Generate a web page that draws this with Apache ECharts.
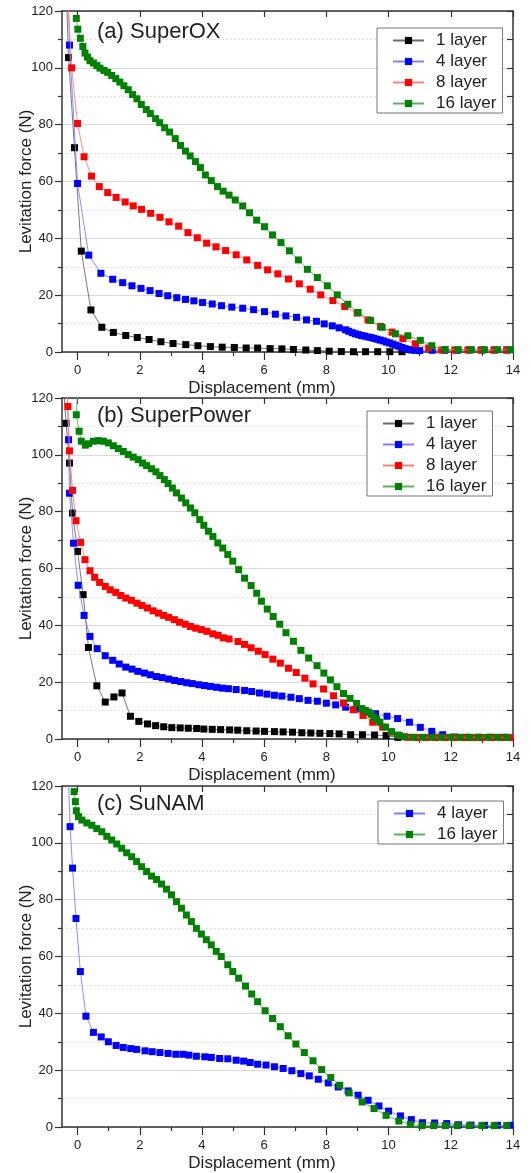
<!DOCTYPE html>
<html><head><meta charset="utf-8">
<script src="https://cdn.jsdelivr.net/npm/echarts@6/dist/echarts.min.js"></script>
<style>html,body{margin:0;padding:0;background:#fff}#c{width:531px;height:1173px}</style>
</head><body><div id="c"></div>
<script>
// ---- tick labels / categories ----
const xTickLabels = [0, 2, 4, 6, 8, 10, 12, 14];
const xMinorTicks = [1, 3, 5, 7, 9, 11, 13];
const panelTitles = ['(a) SuperOX', '(b) SuperPower', '(c) SuNAM'];
const seriesNames = ['1 layer', '4 layer', '8 layer', '16 layer'];

// ---- (a) SuperOX : [displacement mm, force N] ----
const superOX_1 = [[-0.38,133],[-0.29,103.6],[-0.10,71.9],[0.12,35.5],[0.43,14.8],[0.78,8.7],[1.15,6.9],[1.55,5.8],[1.92,5.1],[2.30,4.4],[2.68,3.6],[3.07,3.0],[3.48,2.6],[3.87,2.2],[4.27,1.9],[4.65,1.7],[5.04,1.6],[5.42,1.4],[5.79,1.4],[6.19,1.2],[6.57,1.1],[6.94,0.9],[7.34,0.7],[7.71,0.5],[8.09,0.3],[8.48,0.15],[8.87,0.1],[9.26,0.1],[9.65,0.1],[10.04,0.1],[10.43,0.1]];
const superOX_4 = [[-0.32,135],[-0.26,108.0],[0.0,59.3],[0.36,34.1],[0.75,27.7],[1.13,25.6],[1.45,24.4],[1.75,23.3],[2.04,22.4],[2.33,21.6],[2.62,20.6],[2.90,19.8],[3.19,19.1],[3.47,18.5],[3.74,18.0],[4.02,17.4],[4.33,16.9],[4.63,16.3],[4.96,15.8],[5.31,15.4],[5.66,14.9],[6.01,14.2],[6.36,13.3],[6.70,12.7],[7.04,12.2],[7.36,11.3],[7.68,10.8],[7.93,9.9],[8.19,9.2],[8.41,8.5],[8.62,7.8],[8.72,7.3],[8.83,6.8],[8.93,6.4],[9.03,6.1],[9.13,5.8],[9.23,5.6],[9.33,5.3],[9.43,5.1],[9.53,4.8],[9.63,4.5],[9.73,4.2],[9.83,3.9],[9.93,3.5],[10.03,3.2],[10.13,2.8],[10.23,2.4],[10.33,2.0],[10.43,1.6],[10.53,1.2],[10.63,0.9],[10.73,0.7],[10.85,0.6],[11.0,0.5],[11.4,0.6],[11.8,0.6],[12.2,0.6],[12.6,0.7],[13.0,0.7],[13.4,0.7],[13.8,0.7]];
const superOX_8 = [[-0.31,124],[-0.19,100.0],[0.0,80.4],[0.21,68.7],[0.45,61.9],[0.70,58.2],[0.97,56.1],[1.24,54.4],[1.53,52.8],[1.79,51.4],[2.06,50.2],[2.35,48.8],[2.65,47.4],[2.94,45.8],[3.25,44.3],[3.55,42.0],[3.85,40.2],[4.15,38.3],[4.45,37.0],[4.76,35.7],[5.10,34.2],[5.44,32.4],[5.79,30.5],[6.11,28.9],[6.44,27.5],[6.78,25.7],[7.13,24.0],[7.48,22.1],[7.82,20.1],[8.21,18.1],[8.59,16.0],[8.99,13.7],[9.34,11.3],[9.74,9.0],[10.11,7.0],[10.46,4.7],[10.86,2.9],[11.29,1.4],[11.71,0.7],[12.13,0.7],[12.55,0.7],[12.97,0.7],[13.39,0.7],[13.81,0.7]];
const superOX_16 = [[-0.04,117.4],[0.01,113.6],[0.09,110.4],[0.17,107.5],[0.24,105.2],[0.32,103.8],[0.40,102.5],[0.51,101.7],[0.62,100.8],[0.72,99.9],[0.85,99.1],[0.97,98.4],[1.10,97.3],[1.23,96.2],[1.36,95.0],[1.49,93.7],[1.63,92.3],[1.77,90.6],[1.91,89.1],[2.05,87.1],[2.21,85.3],[2.34,83.9],[2.51,82.1],[2.64,80.7],[2.80,78.9],[2.96,77.4],[3.14,75.1],[3.31,72.7],[3.47,70.7],[3.62,69.0],[3.79,67.0],[3.95,64.9],[4.11,62.3],[4.30,60.3],[4.50,58.2],[4.68,56.6],[4.87,55.2],[5.07,53.5],[5.31,51.4],[5.53,49.0],[5.76,46.4],[6.01,44.1],[6.27,41.2],[6.54,38.5],[6.81,35.6],[7.10,32.4],[7.39,29.1],[7.71,26.2],[8.03,23.3],[8.35,20.1],[8.69,16.8],[9.02,13.9],[9.42,11.1],[9.79,8.7],[10.22,6.4],[10.62,5.7],[11.02,4.1],[11.39,2.2],[11.82,0.9],[12.24,0.8],[12.66,0.8],[13.08,0.8],[13.5,0.8],[13.92,0.8]];

// ---- (b) SuperPower ----
const superPower_1 = [[-0.45,124],[-0.37,111.1],[-0.26,97.1],[-0.16,79.5],[0.0,66.0],[0.18,50.8],[0.35,32.2],[0.62,18.7],[0.89,13.0],[1.17,14.8],[1.43,16.2],[1.70,8.0],[1.97,6.2],[2.25,5.3],[2.51,4.7],[2.77,4.3],[3.03,4.0],[3.30,3.9],[3.56,3.8],[3.83,3.7],[4.06,3.5],[4.33,3.4],[4.60,3.3],[4.89,3.2],[5.15,3.1],[5.44,2.9],[5.74,2.8],[6.01,2.7],[6.33,2.6],[6.61,2.5],[6.91,2.4],[7.21,2.2],[7.50,2.1],[7.79,2.0],[8.11,1.9],[8.41,1.8],[8.78,1.5],[9.16,1.5],[9.55,1.4],[9.92,1.2],[10.30,0.6]];
const superPower_4 = [[-0.34,125],[-0.29,105.3],[-0.26,86.5],[-0.13,68.9],[0.02,54.1],[0.21,43.5],[0.40,36.1],[0.63,31.8],[0.89,29.3],[1.13,27.7],[1.34,26.4],[1.55,25.3],[1.75,24.6],[1.94,23.8],[2.15,23.2],[2.34,22.6],[2.53,22.0],[2.72,21.6],[2.93,21.1],[3.12,20.6],[3.32,20.2],[3.51,19.8],[3.69,19.5],[3.90,19.1],[4.08,18.8],[4.27,18.5],[4.47,18.2],[4.66,17.9],[4.85,17.7],[5.10,17.4],[5.37,17.1],[5.60,16.7],[5.85,16.2],[6.09,15.8],[6.33,15.4],[6.57,15.1],[6.86,14.7],[7.13,14.2],[7.41,13.6],[7.71,13.3],[8.0,12.6],[8.30,12.0],[8.62,11.2],[8.94,10.4],[9.26,9.5],[9.58,8.9],[9.95,8.0],[10.29,7.2],[10.67,5.9],[11.02,4.1],[11.39,2.7],[11.74,1.5],[12.12,0.7],[12.5,0.6],[12.9,0.6],[13.3,0.6],[13.7,0.6]];
const superPower_8 = [[-0.34,124],[-0.31,117.0],[-0.26,101.4],[-0.16,87.5],[-0.05,76.8],[0.10,69.2],[0.24,63.1],[0.40,59.2],[0.55,56.9],[0.71,55.1],[0.89,53.7],[1.05,52.5],[1.23,51.6],[1.39,50.5],[1.55,49.6],[1.73,48.8],[1.91,47.8],[2.07,47.0],[2.25,46.1],[2.43,45.1],[2.60,44.3],[2.77,43.5],[2.93,42.8],[3.11,42.0],[3.28,41.1],[3.46,40.4],[3.63,39.6],[3.80,39.0],[3.98,38.5],[4.16,37.9],[4.35,37.0],[4.52,36.5],[4.69,35.6],[4.87,35.2],[5.16,34.3],[5.37,33.3],[5.58,32.1],[5.81,30.9],[6.03,29.7],[6.28,28.1],[6.52,26.7],[6.78,24.9],[7.03,23.4],[7.31,21.4],[7.57,19.4],[7.91,17.6],[8.23,15.2],[8.55,12.7],[8.86,10.3],[9.18,8.3],[9.49,5.9],[9.81,4.2],[10.09,2.4],[10.35,1.2],[10.61,0.6],[10.9,0.5],[11.2,0.5],[11.5,0.5],[11.8,0.5],[12.1,0.5],[12.4,0.5],[12.7,0.5],[13.0,0.5],[13.3,0.5],[13.6,0.5],[13.9,0.5]];
const superPower_16 = [[0.0,122],[-0.04,114.1],[0.05,108.3],[0.12,104.8],[0.25,103.4],[0.35,103.9],[0.51,104.8],[0.67,105.0],[0.83,104.8],[0.99,104.2],[1.15,103.2],[1.31,102.2],[1.47,101.2],[1.63,100.1],[1.79,99.2],[1.95,98.3],[2.09,97.1],[2.22,96.2],[2.38,95.1],[2.52,94.0],[2.65,92.7],[2.79,91.3],[2.91,89.9],[3.05,88.3],[3.18,86.6],[3.34,84.8],[3.48,83.1],[3.63,81.3],[3.77,79.6],[3.93,77.2],[4.06,75.2],[4.21,73.1],[4.35,71.3],[4.51,69.0],[4.67,67.2],[4.83,64.9],[4.99,62.6],[5.18,59.6],[5.37,56.6],[5.58,54.0],[5.76,51.3],[5.91,48.5],[6.10,45.7],[6.29,43.1],[6.50,40.4],[6.70,37.4],[6.94,34.4],[7.18,31.2],[7.43,28.5],[7.70,25.8],[7.92,23.2],[8.13,20.8],[8.34,18.4],[8.55,16.0],[8.76,14.3],[8.97,12.5],[9.14,10.7],[9.25,10.1],[9.35,9.5],[9.44,8.7],[9.53,7.7],[9.62,6.8],[9.72,5.9],[9.90,4.2],[10.09,2.6],[10.30,1.4],[10.51,0.8],[10.8,0.6],[11.1,0.6],[11.4,0.6],[11.7,0.6],[12.0,0.6],[12.3,0.6],[12.6,0.6],[12.9,0.6],[13.2,0.6],[13.5,0.6],[13.8,0.6]];

// ---- (c) SuNAM ----
const suNAM_4 = [[-0.31,128],[-0.24,105.7],[-0.16,91.1],[-0.05,73.4],[0.09,54.7],[0.27,39.0],[0.51,33.3],[0.76,31.7],[0.99,30.0],[1.24,28.7],[1.47,28.0],[1.71,27.6],[1.90,27.3],[2.17,26.8],[2.40,26.5],[2.65,26.2],[2.91,25.9],[3.16,25.6],[3.39,25.6],[3.58,25.3],[3.82,24.9],[4.09,24.7],[4.30,24.5],[4.57,24.1],[4.83,24.0],[5.10,23.5],[5.34,23.2],[5.55,22.7],[5.79,22.1],[6.06,21.8],[6.33,21.2],[6.61,20.6],[6.89,19.8],[7.18,18.8],[7.45,18.0],[7.74,16.8],[8.06,15.5],[8.38,14.1],[8.70,12.7],[9.02,11.2],[9.34,9.4],[9.69,7.4],[10.0,5.6],[10.38,3.9],[10.73,2.6],[11.09,1.5],[11.48,1.4],[11.87,1.2],[12.25,0.8],[12.65,0.7],[13.08,0.6],[13.5,0.6],[13.9,0.6]];
const suNAM_16 = [[-0.11,118.0],[-0.07,114.5],[-0.04,111.3],[0.03,109.2],[0.14,108.0],[0.30,107.0],[0.46,106.2],[0.62,105.0],[0.78,103.9],[0.94,102.3],[1.10,101.0],[1.26,99.6],[1.42,98.1],[1.58,96.5],[1.74,95.1],[1.90,93.4],[2.06,91.6],[2.22,89.9],[2.38,88.3],[2.54,87.1],[2.70,85.5],[2.86,83.7],[3.02,81.7],[3.18,79.3],[3.34,77.0],[3.50,74.6],[3.66,72.3],[3.82,69.9],[3.98,67.9],[4.14,65.9],[4.30,64.1],[4.46,61.8],[4.62,60.0],[4.83,57.1],[4.99,54.7],[5.18,52.4],[5.40,49.6],[5.60,46.8],[5.79,44.1],[6.03,40.9],[6.27,38.2],[6.52,35.3],[6.77,32.1],[7.02,29.2],[7.29,26.2],[7.57,23.3],[7.85,20.2],[8.14,17.4],[8.43,14.7],[8.73,12.0],[9.15,8.8],[9.53,6.5],[9.92,4.1],[10.33,2.1],[10.70,0.9],[11.07,0.5],[11.45,0.5],[11.83,0.5],[12.21,0.5],[12.6,0.5],[13.0,0.5],[13.4,0.5],[13.8,0.5]];

// ---- styling ----
const FONT = '"Liberation Sans", Arial, sans-serif';
const markerColor = {'1 layer':'#000000','4 layer':'#0000ff','8 layer':'#ff0000','16 layer':'#008000'};
const lineColor = {'1 layer':'#6a6a6a','4 layer':'#8080ff','8 layer':'#ff8080','16 layer':'#60b060'};
const AX = '#333333';

const panels = [
  {data:[superOX_1, superOX_4, superOX_8, superOX_16], names:['1 layer','4 layer','8 layer','16 layer'], top:11, legend:{left:377, top:28}, titleTop:21},
  {data:[superPower_1, superPower_4, superPower_8, superPower_16], names:['1 layer','4 layer','8 layer','16 layer'], top:398, legend:{left:367, top:411}, titleTop:405},
  {data:[suNAM_4, suNAM_16], names:['4 layer','16 layer'], top:786, legend:{left:378, top:801}, titleTop:793}
];

const grid = [], xAxis = [], yAxis = [], series = [], legend = [], graphic = [];
panels.forEach((p, i) => {
  grid.push({left:62, top:p.top, width:451, height:341});
  const lineS = {color:AX, width:1.5};
  const tickS = {color:AX, width:1.2};
  xAxis.push({gridIndex:i, type:'value', min:-0.5, max:14, position:'bottom',
    name:'Displacement (mm)', nameLocation:'middle', nameGap:28, nameMoveOverlap:false,
    nameTextStyle:{fontSize:17, color:'#222', fontFamily:FONT, padding:[0,51,0,0]},
    axisLine:{show:true, onZero:false, lineStyle:lineS},
    axisTick:{show:true, customValues:xTickLabels, length:8, lineStyle:tickS},
    axisLabel:{customValues:xTickLabels, fontSize:13, color:'#222', margin:12, fontFamily:FONT},
    splitLine:{show:false}});
  xAxis.push({gridIndex:i, type:'value', min:-0.5, max:14, position:'bottom',
    axisLine:{show:false, onZero:false},
    axisTick:{show:true, customValues:xMinorTicks, length:4, lineStyle:tickS},
    axisLabel:{show:false}, splitLine:{show:false}});
  xAxis.push({gridIndex:i, type:'value', min:-0.5, max:14, position:'top',
    axisLine:{show:true, onZero:false, lineStyle:lineS},
    axisTick:{show:true, inside:true, customValues:xTickLabels, length:6, lineStyle:tickS},
    axisLabel:{show:false}, splitLine:{show:false}});
  yAxis.push({gridIndex:i, type:'value', min:0, max:120, interval:20, position:'left',
    name:'Levitation force (N)', nameLocation:'middle', nameGap:27, nameMoveOverlap:false,
    nameTextStyle:{fontSize:17, color:'#222', fontFamily:FONT},
    axisLine:{show:true, onZero:false, lineStyle:lineS},
    axisTick:{show:true, length:7, lineStyle:tickS},
    minorTick:{show:true, splitNumber:2, length:4, lineStyle:tickS},
    axisLabel:{fontSize:13, color:'#222', margin:9, fontFamily:FONT},
    splitLine:{show:true, lineStyle:{color:'#d9d9d9', width:1}},
    minorSplitLine:{show:true, lineStyle:{color:'#e2e2e2', width:1, type:[2,2]}}});
  yAxis.push({gridIndex:i, type:'value', min:0, max:120, interval:20, position:'right',
    axisLine:{show:true, onZero:false, lineStyle:lineS},
    axisTick:{show:true, inside:true, length:6, lineStyle:tickS},
    minorTick:{show:true, splitNumber:2, length:6, lineStyle:tickS},
    axisLabel:{show:false}, splitLine:{show:false}});
  p.data.forEach((d, k) => {
    const nm = p.names[k];
    series.push({type:'line', name:nm, xAxisIndex:3*i, yAxisIndex:2*i, data:d,
      symbol:'rect', symbolSize:7, clip:true, z:2+k,
      lineStyle:{color:lineColor[nm], width:0.9},
      itemStyle:{color:markerColor[nm]},
      emphasis:{disabled:true}});
  });
  legend.push({data:p.names, orient:'vertical', left:p.legend.left, top:p.legend.top,
    backgroundColor:'#ffffff', borderColor:'#777', borderWidth:1, borderRadius:0,
    padding:[4,6,1,15], itemWidth:31, itemHeight:9, itemGap:4,
    textStyle:{fontSize:17, color:'#222', fontFamily:FONT, lineHeight:17, padding:[0,0,0,7]},
    selectedMode:false});
  graphic.push({type:'text', left:97, top:p.titleTop, z:10,
    style:{text:panelTitles[i], fontSize:22, fontFamily:FONT, fill:'#222'}});
});

const chart = echarts.init(document.getElementById('c'), null, {renderer:'canvas'});
chart.setOption({animation:false, backgroundColor:'#ffffff', grid, xAxis, yAxis, series, legend, graphic});
</script></body></html>
